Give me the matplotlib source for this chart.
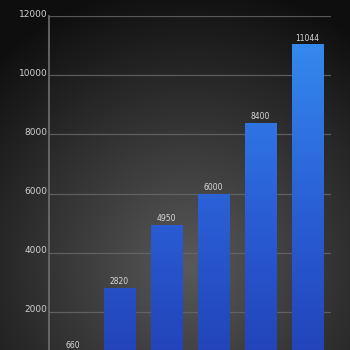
import numpy as np
import matplotlib
matplotlib.use('Agg')
import matplotlib.pyplot as plt
import matplotlib.transforms as mtransforms
from matplotlib.colors import LinearSegmentedColormap

# chart data
categories = ['A', 'B', 'C', 'D', 'E', 'F']
values = [660, 2820, 4950, 6000, 8400, 11044]
yticks = [2000, 4000, 6000, 8000, 10000, 12000]

fig = plt.figure(figsize=(3.5, 3.5), dpi=100)

# radial background
bg = fig.add_axes([0, 0, 1, 1])
yy, xx = np.mgrid[0:350, 0:350]
d = np.sqrt(((xx - 190) / 280.0) ** 2 + ((yy - 265) / 280.0) ** 2)
shade = np.clip(0.35 - 0.29 * d, 0.055, 1)
bg.imshow(np.dstack([shade] * 3), extent=[0, 1, 0, 1], aspect='auto')
bg.axis('off')

ax = fig.add_axes([49 / 350, -21 / 350, 282 / 350, 355 / 350])
ax.patch.set_alpha(0)

x = np.arange(len(values))
bars = ax.bar(x, values, width=0.66, color='#2a5cd0', edgecolor='#2448a8', linewidth=0.6, zorder=3)

# vertical gradient on bars, in data coords
cmap = LinearSegmentedColormap.from_list('bl', ['#2240b6', '#2a5fd6', '#3489ee'])
grad = np.linspace(0, 1, 256).reshape(-1, 1)
for b in bars:
    im = ax.imshow(grad, cmap=cmap, origin='lower', aspect='auto',
                   extent=[b.get_x(), b.get_x() + b.get_width(), 0, 11044], zorder=3)
    im.set_clip_path(b)

for xi, v in zip(x, values):
    ax.text(xi, v + 60, str(v), ha='center', va='bottom', fontsize=5.5, color='#d8d8d8', zorder=4)

ax.set_xlim(-0.5, 5.5)
ax.set_ylim(0, 12000)
ax.set_yticks(yticks)
ax.set_yticklabels([str(t) for t in yticks])
ax.set_xticks([])
ax.tick_params(axis='y', length=0, pad=1, labelsize=6.5, labelcolor='#d0d0d0')
offset = mtransforms.ScaledTranslation(0, 3 / 100, fig.dpi_scale_trans)
for lab in ax.get_yticklabels():
    lab.set_transform(lab.get_transform() + offset)
ax.grid(axis='y', color='#6a6a6a', linewidth=0.9, alpha=0.8, zorder=1)
for s in ['top', 'right', 'bottom']:
    ax.spines[s].set_visible(False)
ax.spines['left'].set_color('#707070')
ax.spines['left'].set_linewidth(1.2)

fig.savefig('out.png', dpi=100)
